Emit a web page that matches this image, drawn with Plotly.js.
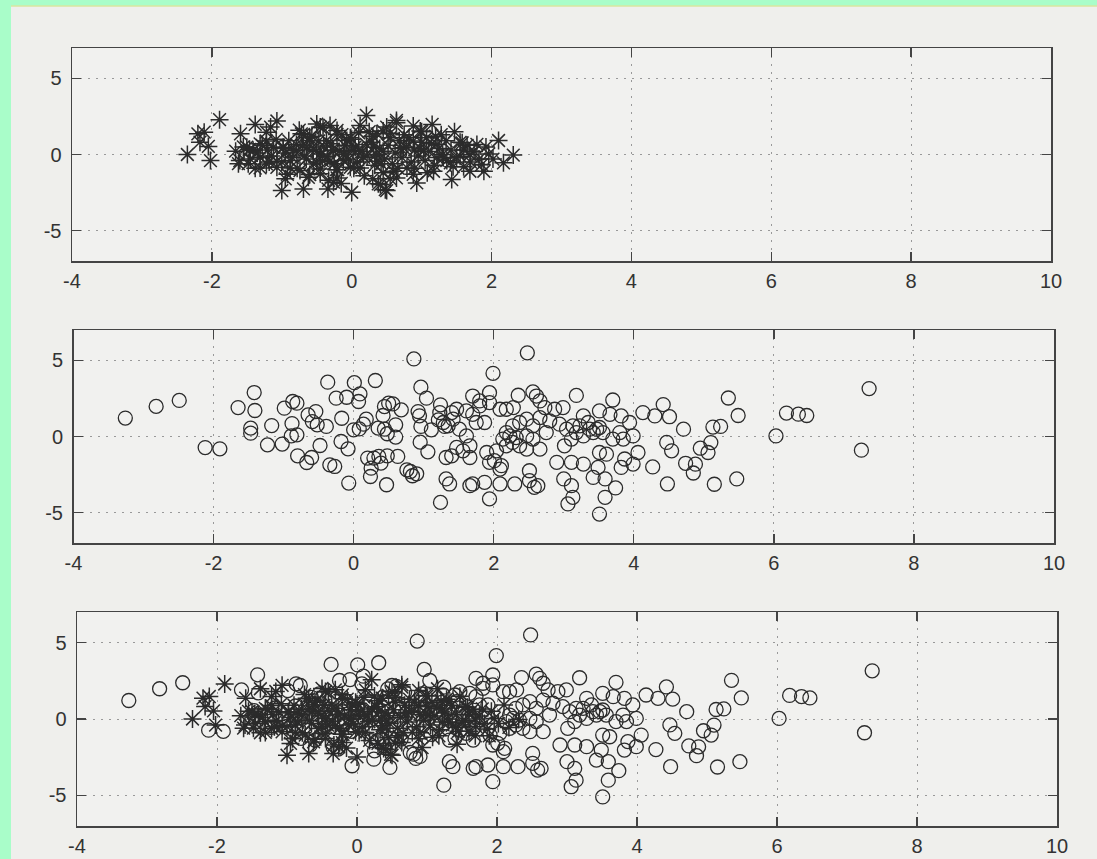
<!DOCTYPE html>
<html>
<head>
<meta charset="utf-8">
<script src="https://cdn.plot.ly/plotly-3.0.1.min.js"></script>
<style>
  html, body { margin: 0; padding: 0; background: #efefec; }
  #chart { width: 1097px; height: 859px; }
</style>
</head>
<body>
<div id="chart"></div>
<script>
// ---- data ----
const xTicks = [-4, -2, 0, 2, 4, 6, 8, 10];
const yTicks = [-5, 0, 5];
const xTickText = ["-4", "-2", "0", "2", "4", "6", "8", "10"];
const yTickText = ["-5", "0", "5"];

// class 1 (asterisks)
const starX = [
  -2.35,-2.20,-2.11,-2.17,-2.05,-2.02,-1.89,-1.66,-1.59,-1.60,-1.38,-1.22,-1.16,-1.07,-1.41,-1.31,-1.22,-1.00,-0.69,-0.34,
  -0.26,0.00,0.21,0.38,0.50,-0.45,-0.31,-0.72,0.12,-0.98,-0.88,-0.74,-0.55,-0.45,-0.26,-0.12,-0.07,0.02,-0.02,0.17,
  0.31,0.36,0.50,0.64,-1.12,-1.07,-1.31,-1.50,-0.64,-0.60,-0.45,-0.79,-0.36,-0.21,
  0.64,1.15,0.98,1.47,1.58,1.55,1.43,2.10,1.96,2.31,2.17,1.86,1.69,1.17,0.93,0.48,0.41,0.64,0.79,1.22,
  1.31,1.03,0.88,0.74,0.55,0.45,0.36,0.21,0.12,0.10,1.41,1.69,1.79,1.89,0.88,1.07,0.45,
  -0.21,-0.41,-0.69,-0.79,-0.50,-0.31,-0.12,-0.88,-1.07,-1.31,-1.46,-1.22,-0.60,-0.21,-0.02,
  -0.95,-0.85,-0.70,-0.65,-0.55,-0.50,-0.40,-0.35,-0.30,-0.25,-0.18,-0.10,-0.05,0.05,0.08,0.15,0.22,0.28,0.33,0.40,
  0.47,0.52,0.58,0.62,0.68,0.72,0.78,0.85,0.90,0.95,1.00,1.05,1.10,1.18,1.25,1.30,1.36,1.42,1.50,1.60,
  1.70,1.75,-1.15,-1.20,-1.35,-1.45,-1.00,-0.90,-0.78,-0.60,0.30,0.60,1.20,0.00,-0.20,0.45,0.90,1.35,-0.45,0.75,
  -1.55,-1.48,-1.38,-1.28,-1.18,-1.08,-0.98,-0.92,-0.83,-0.75,-0.68,-0.62,-0.57,-0.47,-0.42,-0.33,-0.28,-0.22,-0.14,-0.08,
  0.03,0.10,0.18,0.25,0.35,0.42,0.55,0.66,0.70,0.82,0.88,0.98,1.08,1.14,1.22,1.28,1.45,1.55,1.65,1.82,
  1.92,2.02,-1.62,-0.95,-0.15,0.55,1.00,1.60,-0.50,0.30
];
const starY = [
  0.00,1.36,1.47,0.81,0.53,-0.40,2.29,0.22,1.36,-0.40,1.98,1.47,1.80,2.20,0.26,-0.18,-0.62,-2.37,-2.26,-2.26,
  -1.82,-2.48,2.57,-1.93,-2.37,1.80,1.91,1.36,1.91,0.48,-0.40,-1.05,-0.62,-1.27,0.26,-0.40,0.92,0.26,-0.84,-0.18,
  0.48,1.36,1.80,2.24,0.48,-0.84,0.70,0.48,0.48,0.92,0.04,0.26,0.92,1.58,
  2.09,1.98,1.54,1.49,0.77,-0.11,-1.65,0.92,0.04,-0.04,-0.55,-0.66,-1.10,-1.10,-1.87,-2.31,-1.98,-1.54,-0.88,0.66,
  -0.22,0.22,0.88,0.44,1.10,0.22,-0.44,0.66,-0.88,1.43,-0.55,0.00,0.66,-1.10,1.87,1.10,1.54,
  1.32,1.76,1.32,0.66,0.22,-0.44,0.00,-0.88,-0.44,-0.88,0.33,0.88,-1.32,-1.54,1.10,
  0.10,-0.20,0.60,-0.30,0.35,-0.50,0.50,-0.15,0.70,-0.60,0.20,0.60,-0.30,0.50,-0.50,0.20,-0.10,0.80,-0.70,0.40,
  -0.30,0.60,-0.60,0.10,0.90,-0.20,0.50,-0.50,0.30,-0.10,0.80,-0.40,0.20,-0.70,0.40,0.00,-0.40,0.30,-0.20,0.30,
  -0.50,0.20,-0.10,0.30,0.10,-0.30,-0.50,0.90,-0.90,1.10,1.20,-1.10,1.20,1.00,-1.00,-1.20,-0.90,0.90,-0.95,1.30,
  0.50,-0.60,-0.90,0.60,-0.50,1.00,0.40,-1.30,0.30,1.60,-0.10,-1.50,1.20,0.90,-0.40,-1.70,0.30,-1.00,1.30,0.00,
  -0.90,0.30,-1.40,1.50,0.00,-0.60,1.40,-0.90,0.40,1.10,-1.30,0.40,-1.20,0.70,-0.20,1.30,-0.80,0.80,0.60,-0.30,
  0.50,-0.30,-0.60,-1.60,-1.90,-1.60,1.50,-0.80,2.00,-1.60
];

// class 2 (circles)
const circX = [
  -3.26,-2.82,-2.49,-2.12,-1.91,
  -1.65,-1.42,-1.41,-1.47,-1.47,-1.17,-1.23,-1.02,-0.99,-0.87,-0.81,-0.88,-0.89,-0.81,-0.80,-0.67,-0.60,-0.65,-0.54,-0.59,
  -0.52,-0.48,-0.39,-0.37,-0.34,-0.27,-0.25,-0.10,-0.17,-0.18,-0.08,-0.07,0.01,0.09,0.07,0.00,0.08,0.14,0.18,0.31,
  0.20,0.29,0.25,0.24,0.36,0.39,0.35,0.42,0.44,0.50,0.56,0.44,0.48,0.60,0.60,0.48,0.47,0.63,0.68,0.76,
  0.81,0.84,0.90,0.86,0.96,1.04,0.92,0.94,0.96,0.95,1.06,1.11,1.24,1.21,1.30,1.24,
  2.48,1.99,1.94,1.94,1.80,2.35,2.56,2.61,2.66,2.73,2.87,3.18,3.70,4.42,4.13,4.30,4.51,4.47,4.54,4.48,
  4.06,3.99,3.87,3.82,3.74,3.59,3.51,3.59,3.42,3.49,3.61,3.51,3.28,3.11,2.90,3.00,3.11,3.13,3.06,2.58,
  2.63,2.51,2.51,2.30,2.09,1.94,1.87,1.70,1.66,1.37,1.32,2.11,2.01,2.04,2.18,2.27,2.37,2.47,2.66,2.75,
  2.56,2.37,2.27,2.18,2.23,2.13,2.32,2.47,2.56,1.87,1.75,1.70,1.61,1.47,1.40,1.42,1.35,1.51,1.61,1.66,
  1.56,1.47,1.32,1.40,1.66,1.90,1.94,2.09,1.28,1.23,2.94,3.04,3.13,3.23,3.18,3.28,3.37,3.47,3.51,3.56,
  3.42,3.35,3.28,3.51,3.66,3.82,3.94,3.80,3.70,3.85,3.99,3.01,3.11,2.99,2.66,2.80,1.80,1.70,2.09,2.18,
  2.28,2.47,
  7.36,7.25,6.18,6.35,6.47,6.03,5.35,5.49,5.47,5.15,5.13,5.24,5.10,4.95,5.06,4.71,4.74,4.88,4.85,4.27
];
const circY = [
  1.21,1.98,2.37,-0.73,-0.81,
  1.90,2.89,1.71,0.55,0.22,0.72,-0.55,-0.50,1.86,2.30,2.19,0.85,0.04,0.11,-1.27,-1.71,-1.38,1.42,1.64,0.98,
  0.77,-0.59,0.66,3.57,-1.86,-1.97,2.52,2.58,1.20,-0.33,-0.81,-3.06,3.54,2.80,2.30,0.44,0.50,0.81,1.14,3.68,
  -1.42,-1.42,-2.08,-2.63,-1.31,-1.75,0.55,1.38,1.97,2.19,2.14,0.48,0.18,0.77,-0.04,-1.27,-3.17,-1.31,1.75,-2.19,
  -2.30,-2.58,-2.45,5.10,3.24,2.52,1.64,1.36,0.66,-0.37,-1.01,0.44,2.08,1.09,0.66,-4.33,
  5.50,4.15,2.88,2.23,2.34,2.71,2.93,2.66,2.34,1.90,1.79,2.70,2.40,2.10,1.57,1.35,1.30,-0.39,-0.94,-3.12,
  -1.05,-1.81,-1.48,-2.03,-3.38,-4.00,-5.10,-2.79,-2.69,-2.03,-1.16,-1.05,-1.81,-1.70,-1.70,-2.79,-3.23,-4.00,-4.43,-3.34,
  -3.23,-2.90,-2.25,-3.12,-3.12,-4.10,-3.01,-3.12,-3.23,-3.12,-2.79,-1.92,-1.59,-0.94,-0.61,-0.39,-0.61,-0.83,-0.83,0.26,
  0.70,0.92,0.70,0.26,0.04,-0.17,-0.07,0.04,-0.17,0.92,0.92,1.46,1.68,1.79,1.57,1.14,0.70,0.48,0.04,-0.61,
  -0.94,-0.72,-1.38,-1.27,-1.38,-1.05,-1.70,-2.14,0.92,1.57,0.81,0.48,0.70,0.70,0.26,0.04,0.48,0.48,0.59,0.26,
  0.26,0.92,1.35,1.68,1.46,1.35,0.92,0.26,-0.17,-0.17,0.04,-0.61,-0.17,1.90,1.24,1.03,2.01,2.66,1.79,1.79,
  1.90,1.14,
  3.15,-0.90,1.54,1.47,1.38,0.04,2.53,1.38,-2.79,-3.14,0.62,0.66,-0.40,-0.77,-1.05,0.48,-1.76,-1.82,-2.40,-2.00
];

// ---- styling / layout ----
const W = 1097, H = 859;
const markColor = '#2b2b2b';
const starMarker = { symbol: 'asterisk-open', size: 15, color: markColor, line: { color: markColor, width: 1.5 } };
const circMarker = { symbol: 'circle-open', size: 14, color: markColor, line: { color: markColor, width: 1.3 } };

const traces = [
  { x: starX, y: starY, type: 'scatter', mode: 'markers', marker: starMarker, xaxis: 'x', yaxis: 'y', hoverinfo: 'skip' },
  { x: circX, y: circY, type: 'scatter', mode: 'markers', marker: circMarker, xaxis: 'x2', yaxis: 'y2', hoverinfo: 'skip' },
  { x: starX, y: starY, type: 'scatter', mode: 'markers', marker: starMarker, xaxis: 'x3', yaxis: 'y3', hoverinfo: 'skip' },
  { x: circX, y: circY, type: 'scatter', mode: 'markers', marker: circMarker, xaxis: 'x3', yaxis: 'y3', hoverinfo: 'skip' }
];

const tickFont = { family: 'Liberation Sans, Arial, Helvetica, sans-serif', size: 20, color: '#333' };

function xax(left, right, anchor) {
  return {
    domain: [left / W, right / W], anchor: anchor,
    range: [-4, 10], tickvals: xTicks, ticktext: xTickText,
    ticks: 'inside', ticklen: 9, tickwidth: 1.4, tickcolor: '#444',
    showline: true, linecolor: '#444', linewidth: 1.5, mirror: 'ticks',
    showgrid: true, gridcolor: '#999999', gridwidth: 1, griddash: '2px,6px',
    zeroline: false, tickfont: tickFont, ticklabelstandoff: 1, fixedrange: true
  };
}
function yax(top, bottom, anchor) {
  return {
    domain: [1 - bottom / H, 1 - top / H], anchor: anchor,
    range: [-7, 7], tickvals: yTicks, ticktext: yTickText,
    ticks: 'inside', ticklen: 9, tickwidth: 1.4, tickcolor: '#444',
    showline: true, linecolor: '#444', linewidth: 1.5, mirror: 'ticks',
    showgrid: true, gridcolor: '#999999', gridwidth: 1, griddash: '2px,6px',
    zeroline: false, tickfont: tickFont, ticklabelstandoff: 5, fixedrange: true
  };
}

const layout = {
  width: W, height: H,
  margin: { l: 0, r: 0, t: 0, b: 0, pad: 0 },
  paper_bgcolor: '#efefec', plot_bgcolor: '#f1f1ef',
  showlegend: false,
  xaxis: xax(72, 1051, 'y'),   yaxis: yax(48, 261, 'x'),
  xaxis2: xax(73.5, 1054, 'y2'), yaxis2: yax(330, 543, 'x2'),
  xaxis3: xax(77, 1057, 'y3'), yaxis3: yax(612, 826, 'x3'),
  shapes: [
    { type: 'rect', xref: 'paper', yref: 'paper', x0: 0, x1: 11 / W, y0: 0, y1: 1,
      fillcolor: '#a9fdc9', line: { width: 0 }, layer: 'below' },
    { type: 'rect', xref: 'paper', yref: 'paper', x0: 0, x1: 1, y0: 1 - 6 / H, y1: 1,
      fillcolor: '#a9fdc9', line: { width: 0 }, layer: 'below' },
    { type: 'line', xref: 'paper', yref: 'paper', x0: 11 / W, x1: 1, y0: 1 - 6 / H, y1: 1 - 6 / H,
      line: { color: '#d8e6a0', width: 1.5 }, layer: 'below' }
  ]
};

Plotly.newPlot('chart', traces, layout, { staticPlot: true, displayModeBar: false });
</script>
</body>
</html>
